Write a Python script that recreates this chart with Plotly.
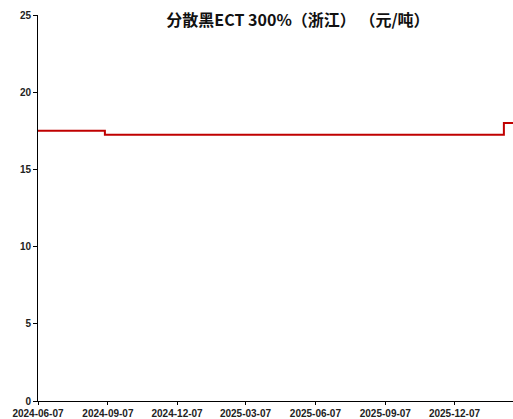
import plotly.graph_objects as go

dates = ["2024-06-07", "2024-09-03", "2026-02-10", "2026-02-28"]
prices = [17.5, 17.25, 18.0, 18.0]

title_text = "分散黑ECT 300%（浙江） （元/吨）"
x_ticks = ["2024-06-07", "2024-09-07", "2024-12-07", "2025-03-07",
           "2025-06-07", "2025-09-07", "2025-12-07"]
y_ticks = [0, 5, 10, 15, 20, 25]

W, H = 513, 419

fig = go.Figure()
fig.add_trace(go.Scatter(
    x=dates, y=prices, mode="lines", line_shape="hv",
    line=dict(color="#C00000", width=2), showlegend=False,
))

tick_font = dict(family="Liberation Sans Narrow, Liberation Sans, Arial", size=10, color="#222222")

fig.update_layout(
    width=W, height=H,
    margin=dict(l=38, r=0, t=15, b=18, autoexpand=False),
    paper_bgcolor="white", plot_bgcolor="white",
    title=dict(text="<b>" + title_text + "</b>", x=298 / W, xanchor="center",
               y=1 - 20 / H, yanchor="middle",
               font=dict(family="Noto Sans CJK SC", size=16, color="#111111")),
    xaxis=dict(
        type="date", range=["2024-06-07", "2026-02-22"],
        tickvals=x_ticks, ticktext=["<b>" + t + "</b>" for t in x_ticks],
        showgrid=False, zeroline=False, showline=True, linecolor="black", linewidth=1,
        ticks="outside", ticklen=3, tickcolor="black", tickfont=tick_font,
        automargin=False, fixedrange=True,
    ),
    yaxis=dict(
        range=[0, 25], tickvals=y_ticks, ticktext=["<b>%d</b>" % v for v in y_ticks],
        showgrid=False, zeroline=False, showline=True, linecolor="black", linewidth=1,
        ticks="outside", ticklen=4, tickcolor="black", tickfont=tick_font,
        automargin=False,
    ),
)

fig.write_html(
    "out.html",
    config={"displayModeBar": False},
    post_script="document.body.style.margin='0';document.body.style.overflow='hidden';",
)
